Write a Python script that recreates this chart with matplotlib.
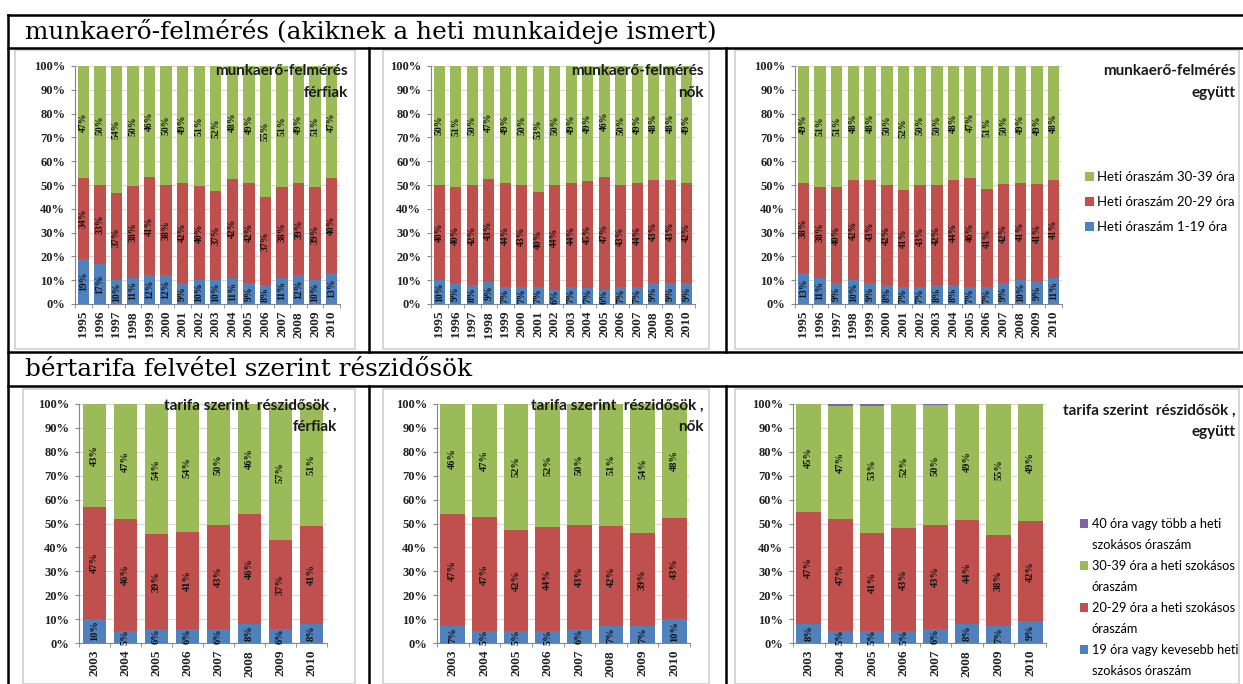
import numpy as np
import matplotlib
matplotlib.use("Agg")
import matplotlib.pyplot as plt
from matplotlib.lines import Line2D
from matplotlib.patches import Rectangle, Patch

# --- adatok -------------------------------------------------------------
evek_mef = [str(e) for e in range(1995, 2011)]
evek_tarifa = [str(e) for e in range(2003, 2011)]

# munkaerő-felmérés, férfiak
mef_ferfi_1_19 = [19, 17, 10, 11, 12, 12, 9, 10, 10, 11, 9, 8, 11, 12, 10, 13]
mef_ferfi_20_29 = [34, 33, 37, 38, 41, 38, 42, 40, 37, 42, 42, 37, 38, 39, 39, 40]
mef_ferfi_30_39 = [47, 50, 54, 50, 46, 50, 49, 51, 52, 48, 49, 55, 51, 49, 51, 47]

# munkaerő-felmérés, nők
mef_no_1_19 = [10, 9, 8, 9, 7, 7, 7, 6, 7, 7, 6, 7, 7, 9, 9, 9]
mef_no_20_29 = [40, 40, 42, 43, 44, 43, 40, 44, 44, 45, 47, 43, 44, 43, 43, 42]
mef_no_30_39 = [50, 51, 50, 47, 49, 50, 53, 50, 49, 49, 46, 50, 49, 48, 48, 49]

# munkaerő-felmérés, együtt
mef_egyutt_1_19 = [13, 11, 9, 10, 9, 8, 7, 7, 8, 8, 7, 7, 9, 10, 9, 11]
mef_egyutt_20_29 = [38, 38, 40, 42, 43, 42, 41, 43, 42, 44, 46, 41, 42, 41, 41, 41]
mef_egyutt_30_39 = [49, 51, 51, 48, 48, 50, 52, 50, 50, 48, 47, 51, 50, 49, 49, 48]

# bértarifa, férfiak
tar_ferfi_19 = [10, 5, 6, 6, 6, 8, 6, 8]
tar_ferfi_20_29 = [47, 46, 39, 41, 43, 46, 37, 41]
tar_ferfi_30_39 = [43, 47, 54, 54, 50, 46, 57, 51]

# bértarifa, nők
tar_no_19 = [7, 5, 5, 5, 6, 7, 7, 10]
tar_no_20_29 = [47, 47, 42, 44, 43, 42, 39, 43]
tar_no_30_39 = [46, 47, 52, 52, 50, 51, 54, 48]

# bértarifa, együtt
tar_egyutt_19 = [8, 5, 5, 5, 6, 8, 7, 9]
tar_egyutt_20_29 = [47, 47, 41, 43, 43, 44, 38, 42]
tar_egyutt_30_39 = [45, 47, 53, 52, 50, 49, 55, 49]
tar_egyutt_40 = [0, 1, 1, 0, 0.5, 0, 0, 0]

KEK = "#4F81BD"
PIROS = "#C0504D"
ZOLD = "#9BBB59"
LILA = "#8064A2"

W, H = 1243, 684
fig = plt.figure(figsize=(W / 100, H / 100), dpi=100)
fig.patch.set_facecolor("white")


def fx(x):
    return x / W


def fy(y):
    return 1 - y / H


def teglalap(x0, y0, x1, y1):
    return [x0 / W, 1 - y1 / H, (x1 - x0) / W, (y1 - y0) / H]


def panel(hely, evek, sorok, szel, cimke_meret):
    ax = fig.add_axes(teglalap(*hely))
    x = np.arange(len(evek))
    osszes = np.sum([np.array(s[0], dtype=float) for s in sorok], axis=0)
    alja = np.zeros(len(evek))
    kontenerek = []
    for ertekek, szin, cimkez in sorok:
        ertekek = np.array(ertekek, dtype=float)
        arany = ertekek / osszes * 100
        bc = ax.bar(x, arany, szel, bottom=alja, color=szin, zorder=2)
        if cimkez:
            feliratok = [f"{v:.0f}%" for v in ertekek]
            ax.bar_label(bc, labels=feliratok, label_type="center", rotation=90,
                         fontsize=cimke_meret, fontweight="bold",
                         family="Liberation Serif", color="#111111")
        alja += arany
        kontenerek.append(bc)
    ax.set_xlim(-0.5, len(evek) - 0.5)
    ax.set_ylim(0, 100)
    ax.set_yticks(range(0, 101, 10))
    ax.set_yticklabels([f"{t}%" for t in range(0, 101, 10)],
                       fontsize=9, fontweight="bold", family="Liberation Serif", color="#222222")
    ax.set_xticks(x)
    ax.set_xticklabels(evek, rotation=90, fontsize=9.5, fontweight="bold",
                       family="Liberation Serif", color="#222222")
    ax.set_xticks(np.arange(-0.5, len(evek), 1), minor=True)
    ax.tick_params(axis="x", which="major", length=0, pad=5)
    ax.tick_params(axis="x", which="minor", length=3, color="#868686")
    ax.tick_params(axis="y", length=3, color="#868686", pad=4)
    ax.yaxis.grid(True, color="#d9d9d9", linewidth=0.8, zorder=0)
    ax.set_axisbelow(True)
    for s in ("top", "right"):
        ax.spines[s].set_visible(False)
    for s in ("left", "bottom"):
        ax.spines[s].set_color("#868686")
        ax.spines[s].set_linewidth(0.8)
    ax.set_facecolor("white")
    return ax, kontenerek


def diagram_keret(x0, y0, x1, y1):
    fig.add_artist(Rectangle((fx(x0), fy(y1)), fx(x1) - fx(x0), fy(y0) - fy(y1),
                             transform=fig.transFigure, facecolor="white",
                             edgecolor="#d0d0d0", linewidth=1.2, zorder=-1))


def cim(x, y, szoveg, sorkoz):
    fig.text(fx(x), fy(y), szoveg, ha="right", va="top", ma="right",
             fontsize=11, fontweight="bold", family="Lato", color="#1a1a1a",
             linespacing=sorkoz)


# diagramterületek kerete
diagram_keret(15, 50, 355, 349)
diagram_keret(383, 50, 709, 349)
diagram_keret(735, 50, 1239, 349)
diagram_keret(23, 389, 355, 684)
diagram_keret(383, 389, 709, 684)
diagram_keret(735, 389, 1239, 684)

# felső sor: munkaerő-felmérés
panel((75, 66, 340, 304), evek_mef,
      [(mef_ferfi_1_19, KEK, True), (mef_ferfi_20_29, PIROS, True), (mef_ferfi_30_39, ZOLD, True)],
      0.69, 7)
panel((431, 66, 695, 304), evek_mef,
      [(mef_no_1_19, KEK, True), (mef_no_20_29, PIROS, True), (mef_no_30_39, ZOLD, True)],
      0.69, 7)
ax3, k3 = panel((795, 66, 1062, 304), evek_mef,
                [(mef_egyutt_1_19, KEK, True), (mef_egyutt_20_29, PIROS, True),
                 (mef_egyutt_30_39, ZOLD, True)],
                0.69, 7)

# alsó sor: bértarifa felvétel
panel((79, 404, 327, 643), evek_tarifa,
      [(tar_ferfi_19, KEK, True), (tar_ferfi_20_29, PIROS, True), (tar_ferfi_30_39, ZOLD, True)],
      0.72, 7.5)
panel((437, 404, 690, 643), evek_tarifa,
      [(tar_no_19, KEK, True), (tar_no_20_29, PIROS, True), (tar_no_30_39, ZOLD, True)],
      0.78, 7.5)
ax6, k6 = panel((793, 404, 1046, 643), evek_tarifa,
                [(tar_egyutt_19, KEK, True), (tar_egyutt_20_29, PIROS, True),
                 (tar_egyutt_30_39, ZOLD, True), (tar_egyutt_40, LILA, False)],
                0.78, 7.5)

# diagramcímek
cim(348, 64, "munkaerő-felmérés\nférfiak", 1.75)
cim(704, 64, "munkaerő-felmérés\nnők", 1.75)
cim(1236, 64, "munkaerő-felmérés\negyütt", 1.75)
cim(337, 399, "tarifa szerint  részidősök ,\nférfiak", 1.6)
cim(704, 399, "tarifa szerint  részidősök ,\nnők", 1.6)
cim(1236, 404, "tarifa szerint  részidősök ,\negyütt", 1.6)

# jelmagyarázatok
fig.legend([k3[2], k3[1], k3[0]],
           ["Heti óraszám 30-39 óra", "Heti óraszám 20-29 óra", "Heti óraszám 1-19 óra"],
           loc="upper left", bbox_to_anchor=(fx(1080), fy(166)), frameon=False,
           prop={"family": "Lato", "size": 9.5}, handlelength=0.65, handleheight=0.65,
           handletextpad=0.25, labelspacing=0.98, borderaxespad=0)

ures = Patch(facecolor="none", edgecolor="none")
fig.legend([k6[3], ures, k6[2], ures, k6[1], ures, k6[0], ures],
           ["40 óra vagy több a heti", "szokásos óraszám",
            "30-39 óra a heti szokásos", "óraszám",
            "20-29 óra a heti szokásos", "óraszám",
            "19 óra vagy kevesebb heti", "szokásos óraszám"],
           loc="upper left", bbox_to_anchor=(fx(1075), fy(513)), frameon=False,
           prop={"family": "Lato", "size": 9.2}, handlelength=0.65, handleheight=0.65,
           handletextpad=0.25, labelspacing=0.7, borderaxespad=0)

# táblázat fejlécei
fig.text(fx(25), fy(32), "munkaerő-felmérés (akiknek a heti munkaideje ismert)",
         ha="left", va="center", fontsize=17.8, family="DejaVu Serif", color="black")
fig.text(fx(25), fy(369), "bértarifa felvétel szerint részidősök",
         ha="left", va="center", fontsize=17.8, family="DejaVu Serif", color="black")

# táblázat vonalai
vonalak = [
    ((8, 1243), (15, 15)), ((8, 1243), (48, 48)),
    ((8, 1243), (352, 352)), ((8, 1243), (386, 386)),
    ((8, 8), (15, 684)),
    ((369, 369), (48, 352)), ((726, 726), (48, 352)),
    ((369, 369), (386, 684)), ((726, 726), (386, 684)),
]
for xs, ys in vonalak:
    fig.add_artist(Line2D([fx(xs[0]), fx(xs[1])], [fy(ys[0]), fy(ys[1])],
                          transform=fig.transFigure, color="black", linewidth=1.8))

fig.savefig("out.png", dpi=100)
